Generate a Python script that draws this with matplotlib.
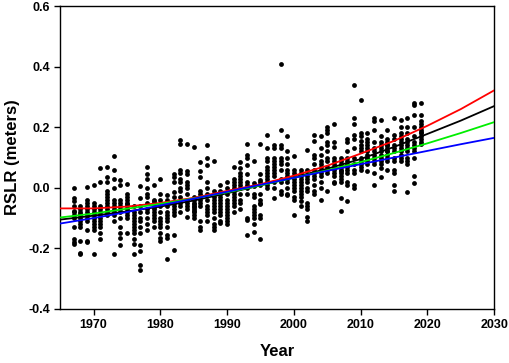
import numpy as np
import matplotlib
matplotlib.use("Agg")
import matplotlib.pyplot as plt

plt.rcParams['font.family'] = ['Liberation Sans', 'DejaVu Sans']
plt.rcParams['font.weight'] = 'bold'

# monthly RSLR values (m), grouped by year
years = list(range(1967, 2020))
rslr = [
    [0.0, -0.035, -0.045, -0.075, -0.10, -0.13, -0.17, -0.18, -0.185, -0.09, -0.06, -0.08],
    [-0.06, -0.07, -0.085, -0.1, -0.11, -0.13, -0.175, -0.215, -0.22, -0.09, -0.08, -0.12],
    [0.003, -0.04, -0.05, -0.07, -0.08, -0.1, -0.11, -0.14, -0.175, -0.18, -0.06, -0.09],
    [0.01, -0.05, -0.07, -0.09, -0.1, -0.12, -0.14, -0.22, -0.08, -0.11, -0.06, -0.13],
    [0.065, 0.02, -0.06, -0.08, -0.1, -0.12, -0.13, -0.15, -0.17, -0.07, -0.09, -0.11],
    [0.07, 0.035, 0.02, -0.01, -0.02, -0.04, -0.05, -0.06, -0.07, -0.09, -0.03, -0.08],
    [0.105, 0.06, 0.03, -0.04, -0.05, -0.07, -0.08, -0.11, -0.22, -0.06, -0.09, 0.0],
    [0.025, 0.01, -0.05, -0.06, -0.1, -0.13, -0.15, -0.165, -0.19, -0.08, -0.07, -0.04],
    [0.012, -0.02, -0.03, -0.05, -0.06, -0.07, -0.09, -0.15, -0.04, -0.08, -0.1, -0.055],
    [-0.06, -0.09, -0.1, -0.11, -0.13, -0.15, -0.17, -0.185, -0.22, -0.08, -0.12, -0.14],
    [0.005, -0.035, -0.08, -0.11, -0.13, -0.15, -0.19, -0.21, -0.255, -0.27, -0.1, -0.06],
    [0.07, 0.045, 0.03, 0.0, -0.02, -0.03, -0.07, -0.08, -0.1, -0.12, -0.14, -0.05],
    [0.01, -0.04, -0.05, -0.06, -0.07, -0.09, -0.1, -0.11, -0.13, -0.08, -0.045, -0.065],
    [0.03, -0.02, -0.04, -0.06, -0.08, -0.1, -0.12, -0.13, -0.15, -0.165, -0.175, -0.11],
    [-0.025, -0.04, -0.06, -0.08, -0.1, -0.11, -0.13, -0.155, -0.165, -0.235, -0.05, -0.09],
    [0.045, 0.035, 0.02, -0.015, -0.05, -0.06, -0.07, -0.08, -0.09, -0.155, -0.205, -0.03],
    [0.158, 0.145, 0.06, 0.05, 0.03, 0.02, -0.01, -0.03, -0.05, -0.08, 0.0, -0.06],
    [0.145, 0.055, 0.045, 0.02, 0.0, -0.02, -0.05, -0.06, -0.07, -0.095, -0.04, 0.01],
    [0.135, -0.03, -0.04, -0.05, -0.06, -0.07, -0.08, -0.09, -0.1, -0.065, -0.075, -0.055],
    [0.085, 0.055, 0.035, -0.01, -0.02, -0.04, -0.05, -0.11, -0.13, -0.14, -0.03, -0.06],
    [0.14, 0.1, 0.075, 0.02, 0.0, -0.02, -0.06, -0.08, -0.09, -0.11, -0.07, -0.04],
    [0.09, -0.01, -0.03, -0.04, -0.07, -0.1, -0.12, -0.13, -0.14, -0.05, -0.08, -0.06],
    [0.01, -0.01, -0.02, -0.04, -0.06, -0.07, -0.08, -0.09, -0.11, -0.115, -0.05, -0.03],
    [0.02, 0.0, -0.02, -0.05, -0.07, -0.08, -0.09, -0.1, -0.11, -0.12, -0.06, -0.04],
    [0.07, 0.03, 0.02, 0.01, -0.01, -0.02, -0.04, -0.05, -0.06, -0.08, 0.0, -0.03],
    [0.085, 0.065, 0.05, 0.04, 0.02, 0.0, -0.02, -0.04, -0.05, -0.07, 0.03, 0.01],
    [0.145, 0.11, 0.1, 0.075, 0.045, 0.02, 0.0, -0.02, -0.1, -0.105, -0.155, 0.01],
    [0.09, 0.015, 0.005, -0.02, -0.06, -0.07, -0.09, -0.1, -0.12, -0.145, -0.03, -0.08],
    [0.145, 0.045, 0.025, 0.01, -0.02, -0.04, -0.05, -0.055, -0.09, -0.1, -0.17, 0.02],
    [0.175, 0.13, 0.1, 0.09, 0.06, 0.05, 0.03, 0.02, 0.01, 0.0, 0.04, 0.07],
    [0.14, 0.13, 0.1, 0.09, 0.08, 0.06, 0.05, 0.04, 0.0, -0.035, 0.07, 0.02],
    [0.41, 0.19, 0.14, 0.13, 0.09, 0.08, 0.06, 0.03, 0.02, -0.01, -0.02, 0.1],
    [0.17, 0.12, 0.1, 0.08, 0.05, 0.04, 0.02, 0.0, -0.02, -0.025, 0.06, 0.03],
    [0.105, 0.06, 0.05, 0.04, 0.02, 0.0, -0.01, -0.03, -0.04, -0.09, 0.03, 0.01],
    [0.06, 0.05, 0.04, 0.02, 0.01, 0.0, -0.02, -0.03, -0.045, -0.06, 0.03, -0.01],
    [0.125, 0.06, 0.04, 0.03, 0.0, -0.01, -0.05, -0.06, -0.07, -0.095, -0.11, 0.02],
    [0.175, 0.155, 0.11, 0.1, 0.06, 0.04, 0.03, 0.01, -0.01, -0.02, 0.08, 0.05],
    [0.17, 0.13, 0.11, 0.09, 0.07, 0.05, 0.04, 0.02, 0.0, -0.04, 0.06, 0.08],
    [0.2, 0.19, 0.18, 0.15, 0.14, 0.12, 0.1, 0.09, 0.06, 0.05, -0.01, 0.07],
    [0.21, 0.15, 0.135, 0.1, 0.09, 0.07, 0.06, 0.04, 0.02, 0.015, 0.08, 0.05],
    [0.1, 0.09, 0.08, 0.07, 0.06, 0.05, 0.04, 0.03, 0.02, -0.035, -0.075, 0.055],
    [0.16, 0.15, 0.12, 0.1, 0.09, 0.07, 0.06, 0.05, 0.02, 0.01, -0.045, 0.08],
    [0.34, 0.23, 0.21, 0.175, 0.16, 0.1, 0.08, 0.06, 0.05, 0.01, 0.0, 0.13],
    [0.29, 0.18, 0.17, 0.155, 0.14, 0.12, 0.1, 0.09, 0.08, 0.07, 0.06, 0.13],
    [0.18, 0.16, 0.15, 0.14, 0.12, 0.11, 0.1, 0.09, 0.08, 0.055, 0.13, 0.1],
    [0.23, 0.22, 0.19, 0.15, 0.12, 0.11, 0.1, 0.09, 0.08, 0.05, 0.01, 0.13],
    [0.225, 0.17, 0.14, 0.12, 0.11, 0.1, 0.09, 0.08, 0.065, 0.035, 0.13, 0.15],
    [0.19, 0.16, 0.15, 0.14, 0.13, 0.12, 0.1, 0.09, 0.06, 0.11, 0.14, 0.12],
    [0.23, 0.175, 0.16, 0.14, 0.12, 0.1, 0.09, 0.06, 0.05, 0.01, -0.01, 0.13],
    [0.225, 0.2, 0.18, 0.16, 0.14, 0.13, 0.12, 0.11, 0.1, 0.09, 0.15, 0.17],
    [0.23, 0.2, 0.18, 0.16, 0.15, 0.13, 0.12, 0.1, 0.09, 0.08, -0.015, 0.14],
    [0.28, 0.275, 0.24, 0.2, 0.17, 0.15, 0.13, 0.12, 0.1, 0.04, 0.015, 0.14],
    [0.28, 0.24, 0.22, 0.2, 0.19, 0.18, 0.17, 0.16, 0.15, 0.145, 0.21, 0.185],
]

# projection curves, read every 5 years
curve_years = [1965, 1970, 1975, 1980, 1985, 1990, 1995, 2000, 2005, 2010, 2015, 2020, 2025, 2030]
black = [-0.105, -0.092, -0.078, -0.062, -0.042, -0.018, 0.008, 0.035, 0.063, 0.095, 0.135, 0.178, 0.222, 0.270]
red = [-0.068, -0.068, -0.062, -0.050, -0.033, -0.010, 0.012, 0.040, 0.073, 0.113, 0.155, 0.205, 0.260, 0.322]
green = [-0.098, -0.085, -0.069, -0.053, -0.035, -0.015, 0.008, 0.033, 0.058, 0.085, 0.115, 0.147, 0.181, 0.217]
blue = [-0.118, -0.100, -0.080, -0.058, -0.036, -0.013, 0.010, 0.033, 0.056, 0.078, 0.100, 0.122, 0.144, 0.165]

xs = []
ys = []
for yr, vals in zip(years, rslr):
    xs += [yr] * len(vals)
    ys += vals

fig = plt.figure(figsize=(5.1, 3.63), dpi=100)
ax = fig.add_axes([0.118, 0.149, 0.851, 0.834])

ax.scatter(xs, ys, s=12, c='black', linewidths=0, zorder=2)
ax.plot(curve_years, black, color='black', lw=1.3, zorder=3)
ax.plot(curve_years, red, color='#ff0000', lw=1.3, zorder=3)
ax.plot(curve_years, green, color='#00ee00', lw=1.3, zorder=3)
ax.plot(curve_years, blue, color='#0000ff', lw=1.3, zorder=3)

ax.set_xlim(1965, 2030)
ax.set_ylim(-0.4, 0.6)
ax.set_xticks(range(1970, 2031, 10))
ax.set_yticks([-0.4, -0.2, 0.0, 0.2, 0.4, 0.6])
ax.set_yticklabels(['-0.4', '-0.2', '0.0', '0.2', '0.4', '0.6'])
ax.tick_params(direction='out', length=4, width=1, labelsize=9)
for s in ax.spines.values():
    s.set_linewidth(1)

ax.set_xlabel('Year', fontsize=12, fontweight='bold', labelpad=9)
ax.set_ylabel('RSLR (meters)', fontsize=12, fontweight='bold', labelpad=6)

fig.savefig('out.png', dpi=100)
